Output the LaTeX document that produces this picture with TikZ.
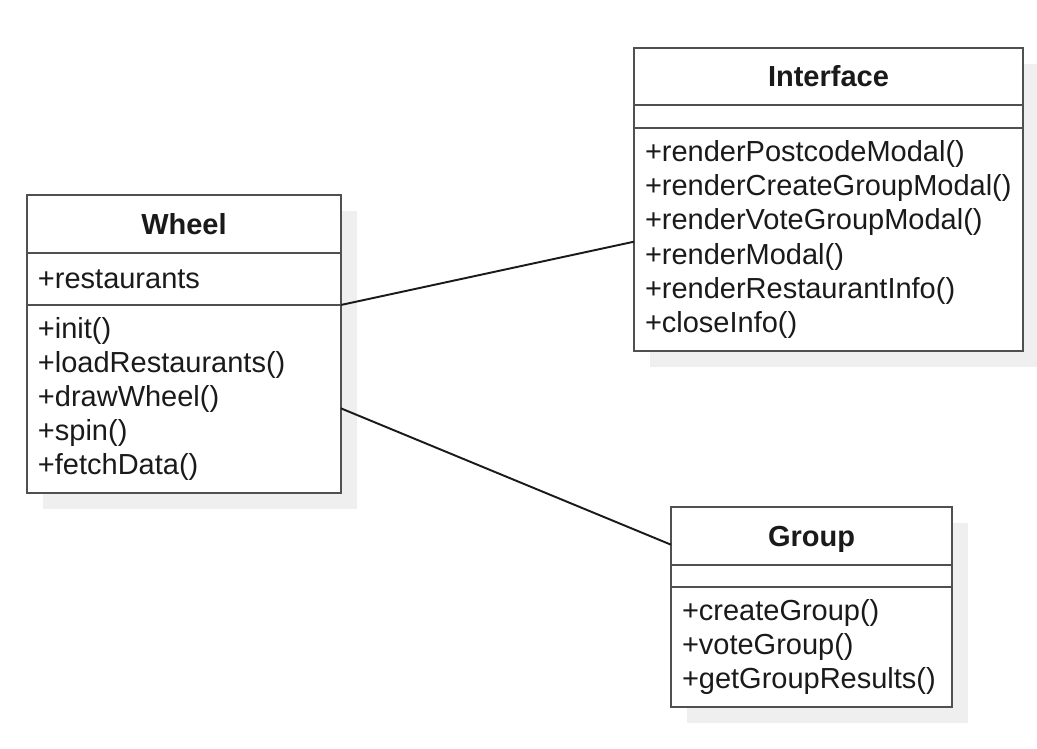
\documentclass[tikz,border=0pt]{standalone}
\usepackage{fontspec}
\setmainfont{Liberation Sans}
\usepackage{tikz}
\usetikzlibrary{positioning,calc}
\definecolor{umlline}{HTML}{505050}
\definecolor{umltext}{HTML}{1A1A1A}
\definecolor{umlshade}{HTML}{EFEFEF}
\newcommand{\umlfont}{\fontsize{16.5pt}{19.4pt}\selectfont}

\begin{document}
\begin{tikzpicture}[x=0.02cm, y=-0.02cm, node distance=0cm,
  part/.style={draw=umlline, line width=1.3pt, fill=white, outer sep=0pt, inner xsep=0.22cm, inner ysep=0pt, align=left, text=umltext, font=\umlfont},
  head/.style={part, align=center, font=\umlfont\bfseries, text height=11.9pt, text depth=0pt},
  shade/.style={fill=umlshade},
  link/.style={draw=umltext, line width=1.1pt}]

\useasboundingbox (0,0) rectangle (1037,749);

% shadows
\fill[shade] (43,211) rectangle (357,509);
\fill[shade] (650,64) rectangle (1039,367);
\fill[shade] (687,523) rectangle (968,723);

% Wheel
\node[head, anchor=north west, text width=5.84cm, minimum height=1.16cm] at (27,195) (whead) {Wheel};
\node[part, below=of whead, text width=5.84cm, minimum height=1.04cm] (wattr) {+restaurants};
\node[part, below=of wattr, text width=5.84cm, minimum height=3.76cm] (wops) {+init()\\+loadRestaurants()\\+drawWheel()\\+spin()\\+fetchData()};

% Interface
\node[head, anchor=north west, text width=7.34cm, minimum height=1.14cm] at (634,48) (ihead) {Interface};
\node[part, below=of ihead, text width=7.34cm, minimum height=0.46cm] (iattr) {};
\node[part, below=of iattr, text width=7.34cm, minimum height=4.46cm] (iops) {+renderPostcodeModal()\\+renderCreateGroupModal()\\+renderVoteGroupModal()\\+renderModal()\\+renderRestaurantInfo()\\+closeInfo()};

% Group
\node[head, anchor=north west, text width=5.18cm, minimum height=1.16cm] at (671,507) (ghead) {Group};
\node[part, below=of ghead, text width=5.18cm, minimum height=0.44cm] (gattr) {};
\node[part, below=of gattr, text width=5.18cm, minimum height=2.4cm] (gops) {+createGroup()\\+voteGroup()\\+getGroupResults()};

\draw[link] (wattr.south east) -- ($(iops.north west)!0.51!(iops.south west)$);
\draw[link] ($(wops.north east)!0.55!(wops.south east)$) -- ($(ghead.north west)!0.65!(ghead.south west)$);
\end{tikzpicture}
\end{document}
